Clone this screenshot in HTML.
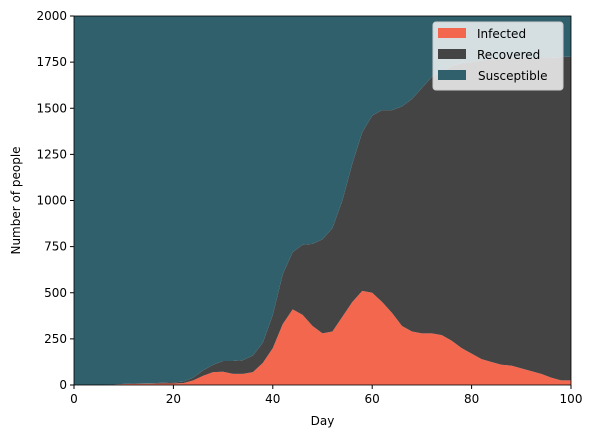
<!DOCTYPE html>
<html><head><meta charset="utf-8"><style>
body{margin:0;background:#fff;font-family:"Liberation Sans","DejaVu Sans",sans-serif}
svg text{font-family:"DejaVu Sans","Liberation Sans",sans-serif;font-size:12px;fill:#000}
</style></head><body>
<svg id="chart" width="593" height="438" xmlns="http://www.w3.org/2000/svg">
<g id="plot"></g>
<g id="axes"></g>
<g id="legend">
<rect x="433" y="22" width="130" height="68" rx="3" fill="#fff" fill-opacity="0.8" stroke="#ccc"/>
<rect x="438" y="28" width="28" height="10" fill="#f4674f"/>
<text x="477" y="38">Infected</text>
<rect x="438" y="49" width="28" height="10" fill="#444444"/>
<text x="477" y="59">Recovered</text>
<rect x="438" y="70" width="28" height="10" fill="#31606d"/>
<text x="478" y="80">Susceptible</text>
</g>
</svg>
<script>
const days=[0,2,4,6,8,10,12,14,16,18,20,22,24,26,28,30,32,34,36,38,40,42,44,46,48,50,52,54,56,58,60,62,64,66,68,70,72,74,76,78,80,82,84,86,88,90,92,94,96,98,100];
const infected=[0,0,0,0,2,5,6,7,7,8,8,10,25,50,70,72,60,60,70,120,200,330,410,380,320,280,290,370,450,510,500,450,390,320,290,280,280,270,240,200,170,140,125,110,105,90,75,60,40,25,25];
const totalIR=[0,0,0,0,3,6,8,9,10,12,14,18,40,80,110,130,130,135,160,230,380,600,720,760,765,790,850,1000,1200,1370,1460,1490,1490,1510,1550,1610,1670,1700,1730,1745,1750,1760,1765,1768,1770,1772,1774,1775,1776,1778,1780];
const recovered=totalIR.map((t,i)=>t-infected[i]);
const population=2000;
const xTicks=[0,20,40,60,80,100];
const yTicks=[0,250,500,750,1000,1250,1500,1750,2000];
const X0=74,X1=571,Y0=385,Y1=16;
const xs=d=>X0+(d/100)*(X1-X0);
const ys=v=>Y0-(v/2000)*(Y0-Y1);
const NS="http://www.w3.org/2000/svg";
const plot=document.getElementById('plot'),axes=document.getElementById('axes');
function area(lo,hi,color,name){
  let d="M"+days.map((x,i)=>xs(x)+","+ys(hi[i])).join("L");
  for(let i=days.length-1;i>=0;i--)d+="L"+xs(days[i])+","+ys(lo[i]);
  const p=document.createElementNS(NS,'path');
  p.setAttribute('d',d+"Z");p.setAttribute('fill',color);
  
  
  plot.appendChild(p);
}
const zeros=days.map(()=>0);
const cum2=days.map((_,i)=>infected[i]+recovered[i]);
const cum3=days.map((_,i)=>population);
area(zeros,infected,'#f4674f','infected-area');
area(infected,cum2,'#444444','recovered-area');
area(cum2,cum3,'#31606d','susceptible-area');
const frame=document.createElementNS(NS,'rect');
frame.setAttribute('x',X0);frame.setAttribute('y',Y1);frame.setAttribute('width',X1-X0);frame.setAttribute('height',Y0-Y1);
frame.setAttribute('fill','none');frame.setAttribute('stroke','#000');frame.setAttribute('stroke-width','0.8');


axes.appendChild(frame);
xTicks.forEach(t=>{
  const l=document.createElementNS(NS,'line');
  l.setAttribute('x1',xs(t));l.setAttribute('x2',xs(t));l.setAttribute('y1',Y0);l.setAttribute('y2',Y0+4);l.setAttribute('stroke','#000');
  
  
  axes.appendChild(l);
  const tx=document.createElementNS(NS,'text');
  tx.setAttribute('x',xs(t));tx.setAttribute('y',Y0+18);tx.setAttribute('text-anchor','middle');tx.textContent=t;
  
  
  axes.appendChild(tx);
});
yTicks.forEach(t=>{
  const l=document.createElementNS(NS,'line');
  l.setAttribute('x1',X0-4);l.setAttribute('x2',X0);l.setAttribute('y1',ys(t));l.setAttribute('y2',ys(t));l.setAttribute('stroke','#000');
  
  
  axes.appendChild(l);
  const tx=document.createElementNS(NS,'text');
  tx.setAttribute('x',X0-7);tx.setAttribute('y',ys(t)+4);tx.setAttribute('text-anchor','end');tx.textContent=t;
  
  
  axes.appendChild(tx);
});
const xl=document.createElementNS(NS,'text');
xl.setAttribute('x',(X0+X1)/2);xl.setAttribute('y',425);xl.setAttribute('text-anchor','middle');xl.textContent='Day';


axes.appendChild(xl);
const yl=document.createElementNS(NS,'text');
yl.setAttribute('transform','translate(20,'+((Y0+Y1)/2)+') rotate(-90)');yl.setAttribute('text-anchor','middle');yl.textContent='Number of people';


axes.appendChild(yl);
</script>
</body></html>
